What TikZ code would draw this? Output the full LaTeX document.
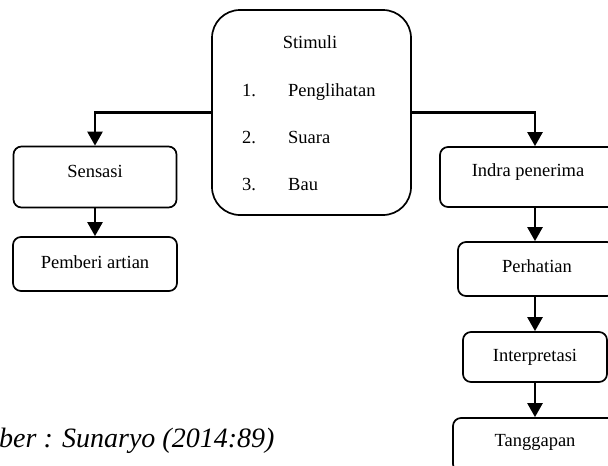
\documentclass[tikz,border=0pt]{standalone}
\usepackage{fontspec}
\setmainfont{Liberation Serif}
\usetikzlibrary{arrows.meta}
\begin{document}
\begin{tikzpicture}[x=1pt,y=-1pt,
  box/.style={draw,line width=1.7pt,rounded corners=8pt,inner sep=0pt},
  lbl/.style={inner sep=0pt,font=\fontsize{18.5}{20}\selectfont},
  conn/.style={line width=2.4pt,-{Triangle[width=15pt,length=14pt]}}]
\clip (0,0) rectangle (608,466);
\fill[white] (0,0) rectangle (608,466);
% Stimuli
\node[box,rounded corners=28pt,minimum width=199pt,minimum height=205pt] (stim) at (311.5,112.5) {};
\node[lbl] (st) at (310,42) {Stimuli};
\node[lbl,anchor=base west] (n1) at (242,96) {1.};
\node[lbl,anchor=base west] (i1) at (288,96) {Penglihatan};
\node[lbl,anchor=base west] (n2) at (242,143) {2.};
\node[lbl,anchor=base west] (i2) at (288,143) {Suara};
\node[lbl,anchor=base west] (n3) at (242,190) {3.};
\node[lbl,anchor=base west] (i3) at (288,190) {Bau};
% left branch
\node[box,minimum width=163pt,minimum height=61pt] (sens) at (95,177) {};
\node[lbl] (senst) at (95,171) {Sensasi};
\node[box,minimum width=164pt,minimum height=54pt] (pemb) at (95,264) {};
\node[lbl] (pembt) at (95,262) {Pemberi artian};
% right branch
\node[box,minimum width=176pt,minimum height=60pt] (indr) at (528,177) {};
\node[lbl] (indrt) at (528,172) {Indra penerima};
\node[box,minimum width=157pt,minimum height=54pt] (perh) at (536.5,269) {};
\node[lbl] (perht) at (537,266) {Perhatian};
\node[box,minimum width=144pt,minimum height=50pt] (intp) at (535,357) {};
\node[lbl] (intpt) at (535,357) {Interpretasi};
\node[box,minimum width=164pt,minimum height=54pt] (tang) at (535,445) {};
\node[lbl] (tangt) at (535,442) {Tanggapan};
\coordinate (col) at (535,0);
% caption
\node[inner sep=0pt,anchor=base west,font=\fontsize{28}{30}\selectfont\itshape] (cap) at (-1,447) {ber : Sunaryo (2014:89)};
% connectors
\draw[conn] (stim.west) -| (sens.north);
\draw[conn] (stim.east) -| (col |- indr.north);
\draw[conn] (sens.south) -- (pemb.north);
\draw[conn] (col |- indr.south) -- (col |- perh.north);
\draw[conn] (col |- perh.south) -- (col |- intp.north);
\draw[conn] (col |- intp.south) -- (col |- tang.north);
\end{tikzpicture}
\end{document}
